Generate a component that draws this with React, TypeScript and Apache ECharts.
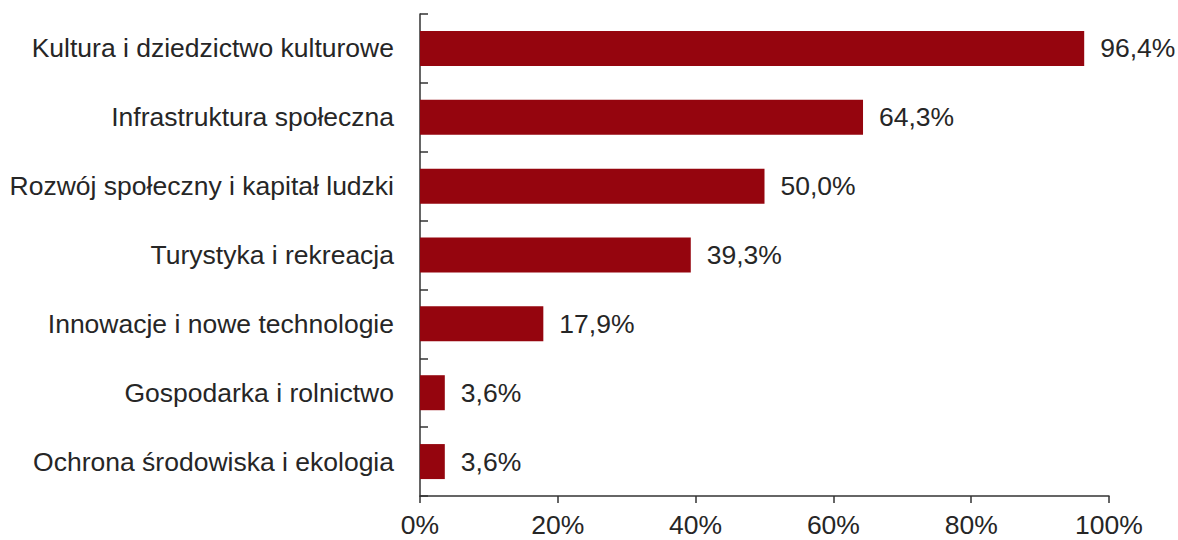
import React, { useEffect, useRef } from "react";
import * as echarts from "echarts";

const categories = [
  "Kultura i dziedzictwo kulturowe",
  "Infrastruktura społeczna",
  "Rozwój społeczny i kapitał ludzki",
  "Turystyka i rekreacja",
  "Innowacje i nowe technologie",
  "Gospodarka i rolnictwo",
  "Ochrona środowiska i ekologia",
];
const values = [96.4, 64.3, 50.0, 39.3, 17.9, 3.6, 3.6];
const xTicks = [0, 20, 40, 60, 80, 100];

export default function App() {
  const ref = useRef<HTMLDivElement>(null);
  useEffect(() => {
    if (!ref.current) return;
    const chart = echarts.init(ref.current, null, { renderer: "svg" });
    const font = "'Liberation Sans', Arial, sans-serif";
    chart.setOption({
      animation: false,
      grid: { left: 420, right: 69, top: 14, bottom: 44, containLabel: false },
      xAxis: {
        type: "value",
        min: xTicks[0],
        max: xTicks[xTicks.length - 1],
        interval: 20,
        splitLine: { show: false },
        axisLine: { show: true, lineStyle: { color: "#333", width: 1.5 } },
        axisTick: { show: true, inside: false, length: 7, lineStyle: { color: "#333", width: 1.5 } },
        axisLabel: {
          formatter: (v: number) => `${v}%`,
          color: "#262626",
          fontSize: 26.5,
          fontFamily: font,
          margin: 15,
        },
      },
      yAxis: {
        type: "category",
        data: categories,
        inverse: true,
        axisLine: { show: true, lineStyle: { color: "#333", width: 1.5 } },
        axisTick: { show: true, inside: true, length: 8, alignWithLabel: false, lineStyle: { color: "#333", width: 1.5 } },
        axisLabel: { color: "#262626", fontSize: 26.5, fontFamily: font, margin: 26 },
      },
      series: [
        {
          type: "bar",
          data: values,
          barWidth: 35,
          itemStyle: { color: "#95050e" },
          label: {
            show: true,
            position: "right",
            distance: 16,
            formatter: (p: any) => `${p.value.toFixed(1).replace(".", ",")}%`,
            color: "#262626",
            fontSize: 26.5,
            fontFamily: font,
          },
        },
      ],
    });
    return () => chart.dispose();
  }, []);
  return <div ref={ref} style={{ width: 1178, height: 540, position: "absolute", left: 0, top: 0 }} />;
}
